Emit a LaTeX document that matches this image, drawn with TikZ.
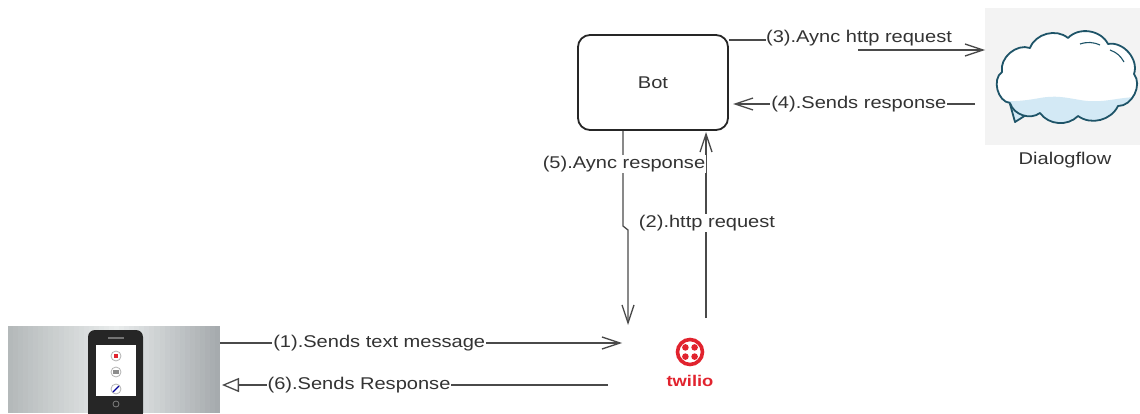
\documentclass[tikz,border=0pt]{standalone}
\usepackage{fontspec}
\setmainfont{Liberation Sans}[FakeStretch=1.18]
\usetikzlibrary{arrows.meta,calc}
\definecolor{linec}{HTML}{4A4A4A}
\definecolor{textc}{HTML}{333333}
\definecolor{cloudline}{HTML}{1E5468}
\definecolor{cloudblue}{HTML}{D3E9F5}
\definecolor{twred}{HTML}{E1232E}
\definecolor{dfbgc}{HTML}{F3F3F3}
\definecolor{phL}{HTML}{B4B9BA}
\definecolor{phM}{HTML}{E9ECEC}
\definecolor{phR}{HTML}{A6ABAE}
\tikzset{
  conn/.style={draw=linec, line width=1.3pt},
  barb/.style={-{Straight Barb[length=18pt,width=12pt,line width=1.3pt]}},
  tri/.style={-{Triangle[open,length=17pt,width=14pt,line width=1.3pt,fill=white]}},
  lbl/.style={fill=white, text=textc, inner sep=1pt, font=\fontsize{17}{18}\selectfont},
  botbox/.style={draw=black!85, line width=1.8pt, rounded corners=12pt, minimum width=150pt, minimum height=95pt, fill=white, text=textc, font=\fontsize{17}{18}\selectfont},
}
\begin{document}
\begin{tikzpicture}[x=1pt,y=-1pt]
\useasboundingbox (0,0) rectangle (1140,414);

% Bot
\node[botbox] (bot) at (653,82.5) {Bot};

% Dialogflow picture
\node[fill=dfbgc, minimum width=155pt, minimum height=137pt, inner sep=0pt] (dfbg) at (1062.5,76.5) {};
\fill[cloudblue] (1010,104) -- (1015,122) -- (1034,110) -- cycle;
\draw[cloudline, line width=1.8pt, line join=round] (1010,104) -- (1015,122) -- (1034,110);
\def\cloudpath{(1010,103) to[bend left=70] (1002,72) to[bend left=60] (1030,48) to[bend left=55] (1068,38)
  to[bend left=55] (1108,44) to[bend left=60] (1134,74) to[bend left=65] (1118,106)
  to[bend left=50] (1078,116) to[bend left=50] (1040,113) to[bend left=55] (1010,103)}
\fill[white] \cloudpath;
\begin{scope}
  \clip \cloudpath;
  \fill[cloudblue] (990,99) to[out=-10,in=190] (1040,98) to[out=10,in=170] (1080,100) to[out=-10,in=180] (1140,97) -- (1140,130) -- (990,130) -- cycle;
\end{scope}
\draw[cloudline, line width=1.8pt, line join=round] \cloudpath;
\draw[cloudline, line width=1.1pt] (1080,44) to[bend left=20] (1100,45);
\draw[cloudline, line width=1.1pt] (1110,50) to[bend left=20] (1124,62);
\node[inner sep=0pt, minimum width=136pt, minimum height=84pt] (cloud) at (1068,77) {};
\node[text=textc, font=\fontsize{17}{18}\selectfont] (dflabel) at (1065,160) {Dialogflow};

% Phone picture
\foreach \i in {0,...,41}{
  \pgfmathsetmacro\xa{8+\i*5.05}
  \pgfmathsetmacro\pa{\i/21*100}
  \pgfmathsetmacro\pb{(\i-21)/20*100}
  \ifnum\i<21 \colorlet{strip}{phM!\pa!phL}\else\colorlet{strip}{phR!\pb!phM}\fi
  \fill[strip] (\xa,326) rectangle ({\xa+5.4},413);
}
\node[minimum width=212pt, minimum height=87pt, inner sep=0pt] (phone) at (114,369.5) {};
\fill[black!85, rounded corners=7pt] (88,330) rectangle (143,420);
\fill[black!55] (108,337) rectangle (124,339);
\fill[white] (96,345) rectangle (136,396);
\draw[black!30, line width=0.8pt] (116,356) circle (5pt) (116,372) circle (5pt) (116,389) circle (5pt);
\fill[twred] (114,354) rectangle (118,358);
\fill[black!45] (113,370) rectangle (119,374);
\draw[blue!60!black, line width=1.4pt] (113,392) -- (119,386);
\draw[black!50, line width=0.8pt] (116,404) circle (3pt);

% Twilio logo
\node[inner sep=0pt, minimum size=30pt] (twilio) at (690,352) {};
\draw[twred, line width=3.6pt] (twilio.center) circle (12.5pt);
\foreach \dx/\dy in {-4.6/-4.6,4.6/-4.6,-4.6/4.6,4.6/4.6} \fill[twred] ($(twilio.center)+(\dx,\dy)$) circle (3.3pt);
\node[text=twred, font=\bfseries\fontsize{15.5}{16}\selectfont] (twtext) at (690,381) {twilio};

% coordinates
\coordinate (p1) at (220,343);
\coordinate (t1) at (622,343);
\coordinate (t6) at (608,385);
\coordinate (p6) at (222,385);
\coordinate (b5) at (623,131);
\coordinate (j5a) at (623,226);
\coordinate (j5b) at (628,230);
\coordinate (t5) at (628,325);
\coordinate (t2) at (706,318);
\coordinate (b2) at (706,132);
\coordinate (b3) at (729,40);
\coordinate (j3) at (858,50);
\coordinate (d3) at (985,50);
\coordinate (d4) at (975,104);
\coordinate (b4) at (733,104);

% (1)
\draw[conn, barb] (p1) -- node[lbl, pos=0.396] (l1) {(1).Sends text message} (t1);
% (6)
\draw[conn, tri] (t6) -- node[lbl, pos=0.645] (l6) {(6).Sends Response} (p6);
% (5)
\draw[conn, barb] (b5) -- (j5a) -- (j5b) -- (t5);
% (2)
\draw[conn, barb] (t2) -- (b2);
\node[lbl] (l5) at (624,164) {(5).Aync response};
\node[lbl] (l2) at (707,223) {(2).http request};
% (3)
\node[lbl, inner sep=0pt] (l3) at (859,38) {(3).Aync http request};
\draw[conn] (b3) -- (b3 -| l3.west);
\draw[conn, barb] (j3) -- (d3);
% (4)
\draw[conn, barb] (d4) -- node[lbl, pos=0.48] (l4) {(4).Sends response} (b4);
\end{tikzpicture}
\end{document}
